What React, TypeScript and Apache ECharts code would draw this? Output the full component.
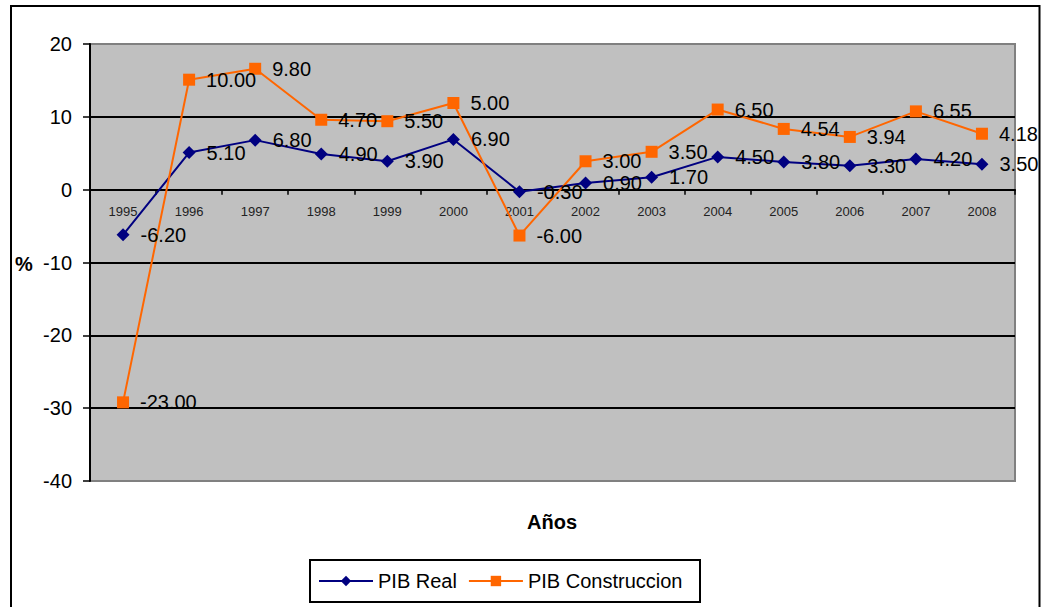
import React, { useEffect, useRef } from "react";
import * as echarts from "echarts";

const years = ["1995","1996","1997","1998","1999","2000","2001","2002","2003","2004","2005","2006","2007","2008"];
const pibReal = [-6.2, 5.1, 6.8, 4.9, 3.9, 6.9, -0.3, 0.9, 1.7, 4.5, 3.8, 3.3, 4.2, 3.5];
const pibConstruccion = [-23.0, 10.0, 9.8, 4.7, 5.5, 5.0, -6.0, 3.0, 3.5, 6.5, 4.54, 3.94, 6.55, 4.18];
const yTicks = { min: -40, max: 20, interval: 10 };

const FONT = "'Liberation Sans', Arial, sans-serif";

export default function App() {
  const ref = useRef<HTMLDivElement>(null);
  useEffect(() => {
    document.body.style.margin = "0";
    const chart = echarts.init(ref.current!, null, { renderer: "svg" });
    const labelStyle = {
      show: true,
      position: "right" as const,
      distance: 11,
      color: "#000",
      fontSize: 20,
      fontFamily: FONT,
      formatter: (p: any) => Number(p.value).toFixed(2),
    };
    chart.setOption({
      animation: false,
      backgroundColor: "#fff",
      textStyle: { fontFamily: FONT },
      grid: {
        left: 90,
        top: 44,
        right: 27,
        bottom: 126,
        show: true,
        backgroundColor: "#C0C0C0",
        borderColor: "#808080",
        borderWidth: 2,
      },
      xAxis: {
        type: "category",
        data: years,
        boundaryGap: true,
        position: "bottom",
        offset: 0,
        axisLine: { onZero: false, lineStyle: { color: "#000", width: 2 } },
        axisTick: { show: true, length: 5, lineStyle: { color: "#000", width: 1.5 } },
        axisLabel: { color: "#222", fontSize: 13, fontFamily: FONT, margin: 15 },
        splitLine: { show: false },
      },
      yAxis: {
        type: "value",
        min: yTicks.min,
        max: yTicks.max,
        interval: yTicks.interval,
        axisLine: { show: true, lineStyle: { color: "#000", width: 2 } },
        axisTick: { show: true, length: 7, lineStyle: { color: "#000", width: 1.5 } },
        axisLabel: { color: "#000", fontSize: 20, fontFamily: FONT, margin: 18 },
        splitLine: {
          show: true,
          showMinLine: false,
          showMaxLine: false,
          lineStyle: { color: "#000", width: 2 },
        },
      },
      legend: {
        left: 318,
        top: 561,
        padding: [10, 0, 10, 0],
        itemGap: 11,
        itemWidth: 54,
        itemHeight: 13,
        textStyle: { color: "#000", fontSize: 20, fontFamily: FONT },
        data: ["PIB Real", "PIB Construccion"],
      },
      graphic: [
        {
          type: "rect",
          shape: { x: 11, y: 6, width: 1028.5, height: 700 },
          style: { fill: "none", stroke: "#000", lineWidth: 2 },
          silent: true,
        },
        {
          type: "rect",
          shape: { x: 310, y: 560, width: 390, height: 42 },
          style: { fill: "none", stroke: "#000", lineWidth: 2 },
          silent: true,
        },
        {
          type: "text",
          x: 552,
          y: 522,
          style: {
            text: "Años",
            fill: "#000",
            font: `bold 20px ${FONT}`,
            textAlign: "center",
            textVerticalAlign: "middle",
          },
        },
        {
          type: "text",
          x: 15,
          y: 264,
          style: {
            text: "%",
            fill: "#000",
            font: `bold 20px ${FONT}`,
            textAlign: "left",
            textVerticalAlign: "middle",
          },
        },
      ],
      series: [
        {
          name: "PIB Real",
          type: "line",
          stack: "total",
          stackStrategy: "all",
          data: pibReal,
          symbol: "diamond",
          symbolSize: 13,
          color: "#000080",
          lineStyle: { color: "#000080", width: 2 },
          itemStyle: { color: "#000080" },
          label: labelStyle,
        },
        {
          name: "PIB Construccion",
          type: "line",
          stack: "total",
          stackStrategy: "all",
          data: pibConstruccion,
          symbol: "rect",
          symbolSize: 12,
          color: "#FF6600",
          lineStyle: { color: "#FF6600", width: 2 },
          itemStyle: { color: "#FF6600" },
          label: labelStyle,
        },
      ],
    });
    // Move the category axis up to the value axis's zero line, using the library's scale.
    const yZero = chart.convertToPixel({ yAxisIndex: 0 }, 0) as number;
    const yBottom = chart.convertToPixel({ yAxisIndex: 0 }, yTicks.min) as number;
    chart.setOption({ xAxis: { offset: yZero - yBottom } });
    return () => chart.dispose();
  }, []);
  return (
    <div
      ref={ref}
      style={{ position: "absolute", left: 0, top: 0, width: 1042, height: 607 }}
    />
  );
}
